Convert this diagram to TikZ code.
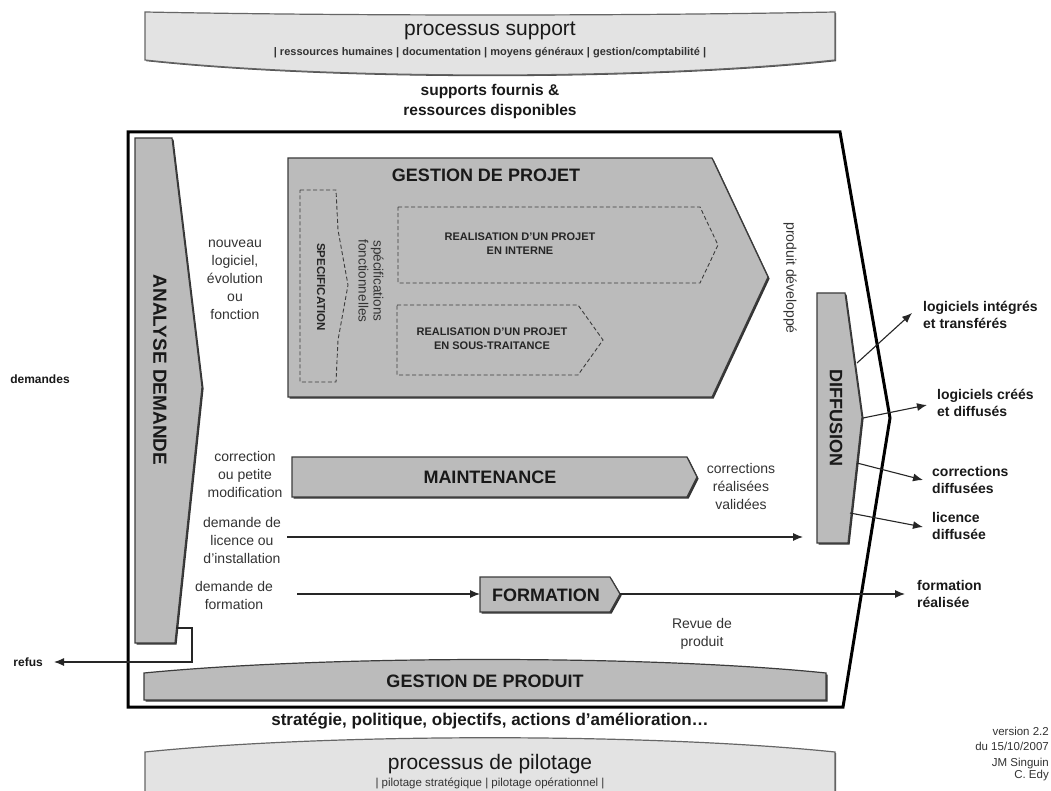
\documentclass[tikz,border=0pt]{standalone}
\usepackage{fontspec}
\setmainfont{Liberation Sans}
\usetikzlibrary{arrows.meta,shadows}
\definecolor{shapegray}{HTML}{BBBBBB}
\definecolor{bannergray}{HTML}{E3E3E3}
\definecolor{edgegray}{HTML}{3C3C3C}
\definecolor{txtgray}{HTML}{333333}
\newcommand{\fsz}[2]{\fontsize{#1}{#2}\selectfont}
\tikzset{
  shp/.style={fill=shapegray, draw=edgegray, line width=1.2pt, line join=miter,
    drop shadow={shadow xshift=1.6pt, shadow yshift=-1.6pt, fill=black!80, opacity=1}},
  banner/.style={fill=bannergray, draw=black!60, line width=1.2pt, line join=miter,
    drop shadow={shadow xshift=1.2pt, shadow yshift=-1.2pt, fill=black!70, opacity=1}},
  dashbox/.style={draw=edgegray, dash pattern=on 4pt off 2.5pt, line width=0.9pt, line join=miter},
  frame/.style={draw=black, line width=3pt, line join=miter},
  arr/.style={draw=black!85, line width=1.1pt, -{Latex[length=10pt,width=8pt]}},
  big/.style={font=\bfseries\fsz{18}{20}, text=black!90, inner sep=0pt},
  plain/.style={font=\fsz{14}{18}, text=txtgray, align=center, inner sep=0pt},
  outl/.style={font=\bfseries\fsz{14}{17}, text=black!90, align=left, anchor=west, inner sep=0pt},
  small/.style={font=\bfseries\fsz{11}{14}, text=black!85, align=center, inner sep=0pt},
}
\begin{document}
\begin{tikzpicture}[x=1pt,y=-1pt]
\clip (0,0) rectangle (1051,791);
\fill[white] (0,0) rectangle (1051,791);

% ---------- top banner ----------
\path[banner] (145,12) .. controls (350,16) and (630,16) .. (835,12) -- (835,60)
  .. controls (650,80) and (330,80) .. (145,60) -- cycle;
\node[font=\fsz{21}{24}, text=black!90, inner sep=0pt] (ps) at (490,31) {processus support};
\node[font=\bfseries\fsz{11}{12}, text=black!80, inner sep=0pt] (psub) at (490,53)
  {| ressources humaines | documentation | moyens généraux | gestion/comptabilité |};
\node[font=\bfseries\fsz{15.5}{20}, text=black!90, align=center, inner sep=0pt] (sf) at (490,101)
  {supports fournis \&\\ressources disponibles};

% ---------- main frame ----------
\draw[frame] (128,132) -- (840,132) -- (890,418) -- (843,707) -- (128,707) -- cycle;

% ---------- analyse demande ----------
\path[shp] (135,138) -- (172,138) -- (202,387) -- (175,643) -- (135,643) -- cycle;
\node[big, font=\bfseries\fsz{19}{21}, rotate=-90] (ad) at (160,370) {ANALYSE DEMANDE};
\node[font=\bfseries\fsz{12}{14}, text=black!90, inner sep=0pt] (dem) at (40,379) {demandes};
\node[plain] (nouv) at (235,280) {nouveau\\logiciel,\\évolution\\ou\\fonction};

% ---------- gestion de projet ----------
\path[shp] (288,158) -- (712,158) -- (768,277) -- (712,397) -- (288,397) -- cycle;
\node[big] (gp) at (486,175) {GESTION DE PROJET};
\path[dashbox] (300,190) -- (336,190) -- (338,230) -- (348,285) -- (338,340) -- (336,382) -- (300,382) -- cycle;
\node[small, font=\bfseries\fsz{11.5}{13}, rotate=-90] (spec) at (321,287) {SPECIFICATION};
\node[font=\fsz{13.5}{15}, text=txtgray, align=center, inner sep=0pt, rotate=-90] (specf) at (371,281)
  {spécifications\\fonctionnelles};
\path[dashbox] (398,207) -- (700,207) -- (718,245) -- (700,283) -- (398,283) -- cycle;
\node[small] (rint) at (520,244) {REALISATION D'UN PROJET\\EN INTERNE};
\path[dashbox] (397,305) -- (578,305) -- (603,340) -- (578,375) -- (397,375) -- cycle;
\node[small] (rst) at (492,339) {REALISATION D'UN PROJET\\EN SOUS-TRAITANCE};
\node[font=\fsz{14}{16}, text=txtgray, inner sep=0pt, rotate=-90] (pdev) at (790,278) {produit développé};

% ---------- diffusion ----------
\path[shp] (817,293) -- (845,293) -- (862,417) -- (848,543) -- (817,543) -- cycle;
\node[big, rotate=-90] (diff) at (836,418) {DIFFUSION};
\coordinate (d1) at (857,363); \coordinate (t1) at (912,313);
\coordinate (d2) at (863,418); \coordinate (t2) at (927,405);
\coordinate (d3) at (857,463); \coordinate (t3) at (923,480);
\coordinate (d4) at (850,513); \coordinate (t4) at (923,527);
\draw[arr] (d1) -- (t1);
\draw[arr] (d2) -- (t2);
\draw[arr] (d3) -- (t3);
\draw[arr] (d4) -- (t4);
\node[outl] (o1) at (923,315) {logiciels intégrés\\et transférés};
\node[outl] (o2) at (937,403) {logiciels créés\\et diffusés};
\node[outl] (o3) at (932,480) {corrections\\diffusées};
\node[outl] (o4) at (932,526) {licence\\diffusée};

% ---------- maintenance ----------
\path[shp] (292,457) -- (687,457) -- (697,477) -- (687,497) -- (292,497) -- cycle;
\node[big] (maint) at (490,477) {MAINTENANCE};
\node[plain] (corr) at (245,474) {correction\\ou petite\\modification};
\node[plain] (corrv) at (741,486) {corrections\\réalisées\\validées};

% ---------- licence ----------
\node[plain] (lic) at (242,540) {demande de\\licence ou\\d'installation};
\coordinate (licS) at (287,537); \coordinate (licE) at (803,537);
\draw[arr] (licS) -- (licE);

% ---------- formation ----------
\node[plain] (fdem) at (234,595) {demande de\\formation};
\path[shp] (480,577) -- (610,577) -- (620,594) -- (610,612) -- (480,612) -- cycle;
\node[big] (form) at (546,595) {FORMATION};
\coordinate (fS) at (297,594); \coordinate (fW) at (480,594);
\coordinate (fE) at (620,594); \coordinate (fT) at (905,594);
\draw[arr] (fS) -- (fW);
\draw[arr] (fE) -- (fT);
\node[outl] (freal) at (917,594) {formation\\réalisée};
\node[plain] (revue) at (702,634) {Revue de\\produit};

% ---------- refus ----------
\node[font=\bfseries\fsz{12}{14}, text=black!90, inner sep=0pt, anchor=east] (refus) at (43,662) {refus};
\coordinate (adR) at (176,628); \coordinate (rc1) at (192,628); \coordinate (rc2) at (192,662);
\draw[arr] (adR) -- (rc1) -- (rc2) -- ([xshift=11pt]refus.east |- rc2);

% ---------- gestion de produit ----------
\path[shp] (144,673) .. controls (330,655) and (650,655) .. (826,673) -- (826,700) -- (144,700) -- cycle;
\node[big] (gprod) at (485,681) {GESTION DE PRODUIT};
\node[font=\bfseries\fsz{17}{19}, text=black!90, inner sep=0pt] (strat) at (490,721)
  {stratégie, politique, objectifs, actions d’amélioration…};

% ---------- pilotage banner ----------
\path[banner] (145,752) .. controls (330,733) and (650,733) .. (835,752) -- (835,800) -- (145,800) -- cycle;
\node[font=\fsz{21}{24}, text=black!90, inner sep=0pt] (pp) at (490,764) {processus de pilotage};
\node[font=\fsz{11.5}{12}, text=black!80, inner sep=0pt] (ppsub) at (490,783)
  {| pilotage stratégique | pilotage opérationnel |};

% ---------- version ----------
\node[font=\fsz{11.5}{15}, text=txtgray, align=right, inner sep=0pt, anchor=east] (ver) at (1049,739)
  {version 2.2\\du 15/10/2007};
\node[font=\fsz{11.5}{12}, text=txtgray, align=right, inner sep=0pt, anchor=east] (auth) at (1049,770)
  {JM Singuin\\C. Edy};
\end{tikzpicture}
\end{document}
